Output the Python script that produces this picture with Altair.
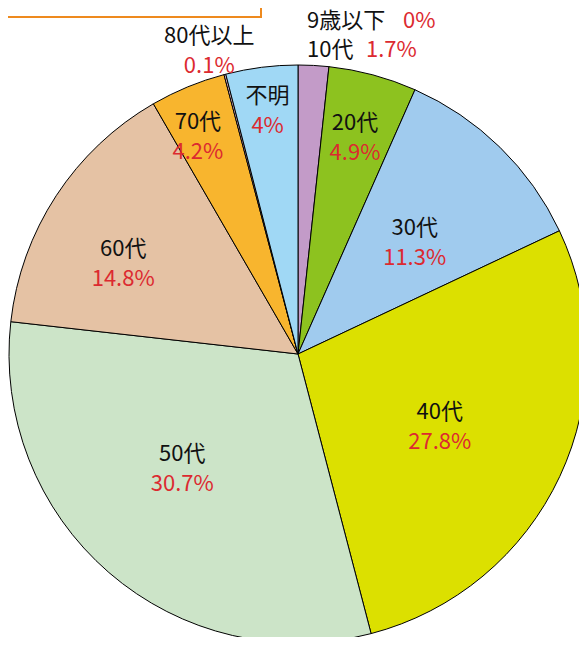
import altair as alt
import pandas as pd

# data
categories = ["9歳以下", "10代", "20代", "30代", "40代", "50代", "60代", "70代", "80代以上", "不明"]
values = [0, 1.7, 4.9, 11.3, 27.8, 30.7, 14.8, 4.2, 0.1, 4]
pct_labels = ["0%", "1.7%", "4.9%", "11.3%", "27.8%", "30.7%", "14.8%", "4.2%", "0.1%", "4%"]
colors = ["#C39BC8", "#C39BC8", "#8DC21F", "#A0CBEE", "#DCE000", "#CCE4C8",
          "#E5C2A4", "#F8B52E", "#F5C7DA", "#A0D8F5"]

# layout: label distance from centre (px) and angular nudge (degrees)
label_radius = [0, 0, 226, 163, 158, 161, 198, 242, 319, 248]
label_nudge = [0, 0, -0.4, 1.4, 1.1, 5.1, -5.2, -2.0, -1.5, 0.2]
top_radius = [333, 304]

total = sum(values)
df = pd.DataFrame({
    "cat": categories,
    "value": values,
    "pct": pct_labels,
    "idx": list(range(len(categories))),
    "lr": label_radius,
})
df["lt"] = df["value"].cumsum() - df["value"] / 2 + pd.Series(label_nudge) / 360 * total
df["mname"] = [c if i >= 2 else "" for i, c in enumerate(categories)]
df["mpct"] = [p if i >= 2 else "" for i, p in enumerate(pct_labels)]

CX, CY, R = 290, 346, 289
FONT = "Noto Sans CJK JP"
FS = 22

pie = alt.Chart(df).mark_arc(outerRadius=R, stroke="black", strokeWidth=1).encode(
    theta=alt.Theta("value:Q", stack=True),
    order=alt.Order("idx:Q"),
    x=alt.value(CX),
    y=alt.value(CY),
    color=alt.Color("cat:N", scale=alt.Scale(domain=categories, range=colors), legend=None),
)

lbase = alt.Chart(df).encode(
    theta=alt.Theta("lt:Q", stack=None),
    radius=alt.Radius("lr:Q", scale=None),
    x=alt.value(CX),
    y=alt.value(CY),
)
names = lbase.mark_text(font=FONT, fontSize=FS, color="#111111", dy=-12,
                        baseline="middle").encode(text="mname:N")
pcts = lbase.mark_text(font=FONT, fontSize=FS, color="#DC2A30", dy=18,
                       baseline="middle").encode(text="mpct:N")

top = pd.DataFrame({"cat": categories[:2], "pct": pct_labels[:2], "r": top_radius})
top_base = alt.Chart(top).encode(theta=alt.value(0), x=alt.value(CX), y=alt.value(CY),
                                 radius=alt.Radius("r:Q", scale=None))
top_names = top_base.mark_text(font=FONT, fontSize=FS, color="#111111", align="left",
                               baseline="middle", dx=9).encode(text="cat:N")
top_p0 = top_base.mark_text(font=FONT, fontSize=FS, color="#DC2A30", align="left",
                            baseline="middle", dx=105).encode(text="pct:N").transform_filter(
    alt.datum.cat == categories[0])
top_p1 = top_base.mark_text(font=FONT, fontSize=FS, color="#DC2A30", align="left",
                            baseline="middle", dx=68).encode(text="pct:N").transform_filter(
    alt.datum.cat == categories[1])

box = alt.Chart(pd.DataFrame({"a": [0]})).mark_rect(
    fill="white", stroke="#EE8A1E", strokeWidth=2
).encode(x=alt.value(-5), x2=alt.value(253), y=alt.value(-5), y2=alt.value(9))

chart = alt.layer(box, pie, names, pcts, top_names, top_p0, top_p1).properties(
    width=571, height=629, padding=0, autosize=alt.AutoSizeParams(type="none")
).configure_view(stroke=None)

chart.save("out.html", embed_options={"renderer": "svg", "actions": False})
